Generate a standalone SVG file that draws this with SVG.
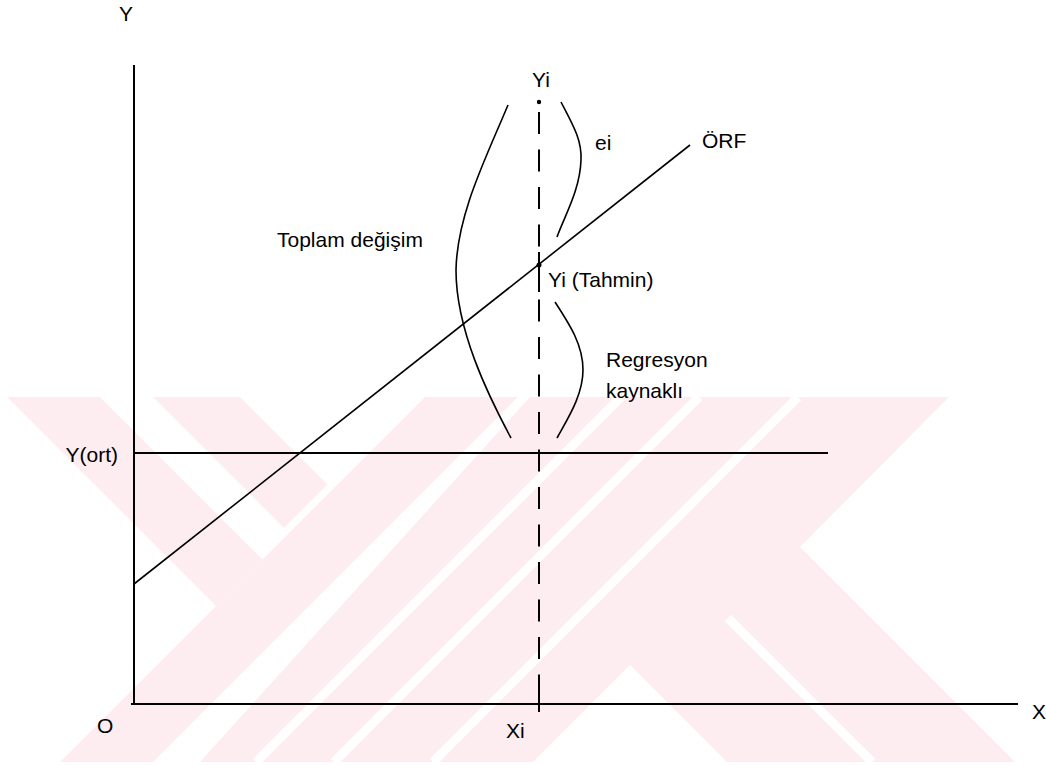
<svg xmlns="http://www.w3.org/2000/svg" width="1046" height="765" viewBox="0 0 1046 765">
<style>
text{font-family:"Liberation Sans",Arial,sans-serif;font-size:21px;fill:#000}
.ax{stroke:#000;stroke-width:2;fill:none}
.ln{stroke:#000;stroke-width:1.6;fill:none}
.wm{fill:#fdedf0}
.wl{stroke:#fff;stroke-width:9;fill:none}
</style>
<rect width="1046" height="765" fill="#fff"/>
<g id="watermark">
<polygon class="wm" points="7,397 100,397 262.5,559.5 216,606"/>
<polygon class="wm" points="153,397 240,397 327.5,484.5 284,528"/>
<polygon class="wm" points="425,397 518,397 153,762 60,762"/>
<polygon class="wm" points="530,397 949,397 800,547 1015,762 727,762 630,665 533,762 200,762"/>
<line class="wl" x1="621" y1="397" x2="256" y2="762"/>
<line class="wl" x1="699" y1="397" x2="334" y2="762"/>
<line class="wl" x1="798" y1="397" x2="433" y2="762"/>
<line class="wl" x1="728" y1="618" x2="872" y2="762"/>
</g>
<g id="axes">
<line class="ax" x1="134" y1="65" x2="134" y2="704"/>
<line class="ax" x1="131" y1="704" x2="1018" y2="704"/>
<text x="119" y="21">Y</text>
<text x="1032" y="719">X</text>
<text x="97" y="733">O</text>
</g>
<g id="connectors">
<line id="orf" class="ln" x1="134" y1="584" x2="690" y2="145"/>
<line id="yort" class="ax" x1="133" y1="453" x2="828" y2="453"/>
<line id="xi-line" class="ax" x1="539" y1="112" x2="539" y2="712" stroke-dasharray="22 15.5"/>
<line class="ax" x1="539" y1="252" x2="539" y2="292"/>
<line class="ax" x1="539" y1="696" x2="539" y2="712"/>
<path id="brace-total" class="ln" d="M508,105 C485,160 457,215 456,270 C456,330 488,395 511,438"/>
<path id="brace-ei" class="ln" d="M561,102 C573,125 582,140 581,160 C580,190 565,215 557,237"/>
<path id="brace-reg" class="ln" d="M555,302 C570,325 583,345 583,370 C583,395 568,418 557,438"/>
</g>
<g id="node-yi">
<circle cx="539" cy="102" r="2.2"/>
<text x="532" y="87">Yi</text>
</g>
<g id="node-yhat">
<circle cx="539" cy="265" r="2.5"/>
<text x="548" y="287">Yi (Tahmin)</text>
</g>
<g id="label-ei"><text x="595" y="150">ei</text></g>
<g id="label-orf"><text x="702" y="148">ÖRF</text></g>
<g id="label-total"><text x="277" y="247">Toplam değişim</text></g>
<g id="label-reg"><text x="606" y="367">Regresyon</text><text x="606" y="398">kaynaklı</text></g>
<g id="label-yort"><text x="118" y="462" text-anchor="end">Y(ort)</text></g>
<g id="label-xi"><text x="506" y="738">Xi</text></g>
</svg>
